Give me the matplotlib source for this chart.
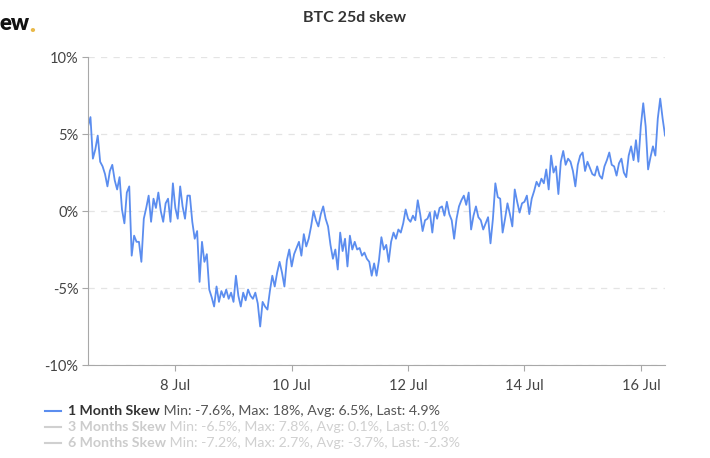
import pandas as pd
import matplotlib
matplotlib.use('Agg')
import matplotlib.pyplot as plt
import matplotlib.dates as mdates
from matplotlib.ticker import FuncFormatter

plt.rcParams['font.family'] = ['Lato', 'DejaVu Sans']

# 1 Month Skew, hourly values (%), from 6 Jul 12:00
skew_1m = [
    5.5, 6.1, 3.4, 4.0, 4.9, 3.2, 2.9, 2.4, 1.6, 2.6, 3.0, 2.0,
    1.4, 2.2, 0.1, -0.8, 1.2, 1.6, -2.9, -1.6, -2.0, -2.0, -3.3, -0.5,
    0.2, 1.0, -0.7, 0.8, 0.2, 1.2, 0.0, -0.7, 0.5, 0.8, -0.7, 1.8,
    0.2, -0.5, 1.6, 0.3, -0.5, 1.0, 1.0, -0.7, -1.8, -1.3, -4.6, -2.0,
    -3.3, -2.8, -5.1, -5.6, -6.2, -4.9, -5.9, -5.2, -5.6, -5.1, -5.7, -5.3,
    -5.9, -4.2, -5.5, -6.2, -5.3, -5.8, -5.1, -5.5, -5.7, -5.3, -6.0, -7.5,
    -5.9, -6.2, -6.4, -5.2, -4.2, -4.9, -4.0, -3.3, -4.0, -4.9, -3.2, -2.5,
    -3.6, -2.8, -2.4, -2.0, -2.9, -1.5, -2.3, -1.8, -1.0, 0.0, -0.6, -1.0,
    -0.2, 0.3, -0.5, -1.0, -2.2, -3.1, -2.5, -3.8, -1.4, -2.6, -1.8, -3.6,
    -1.6, -2.5, -2.0, -2.5, -2.4, -2.9, -2.7, -3.1, -3.3, -4.2, -3.4, -4.2,
    -3.2, -1.7, -2.5, -2.2, -3.3, -2.0, -1.4, -1.8, -1.2, -1.4, -0.8, 0.1,
    -0.5, -0.7, -0.3, -0.6, 0.7, -0.2, -1.3, -0.6, -0.5, -0.1, -1.4, 0.0,
    -0.5, 0.2, 0.3, -0.3, 0.6, -0.2, -0.6, -1.8, -0.5, 0.3, 0.7, 1.0,
    0.4, 1.2, -1.2, -0.3, 0.3, -0.4, -0.6, -1.2, -0.8, -0.4, -2.1, -0.5,
    1.8, 0.9, 0.8, -1.4, -0.5, 0.5, -0.2, -1.0, 1.4, 0.6, -0.1, 0.5,
    0.6, 1.0, -0.2, 0.8, 1.3, 1.9, 1.6, 2.1, 1.8, 2.7, 1.4, 3.6,
    2.5, 2.9, 1.1, 3.2, 3.9, 3.0, 3.4, 3.2, 2.6, 1.6, 3.0, 3.6,
    3.8, 2.6, 3.2, 2.8, 2.4, 2.3, 2.9, 2.3, 2.1, 2.9, 3.3, 3.8,
    3.0, 2.9, 2.3, 3.1, 3.4, 2.5, 2.2, 3.6, 4.2, 3.3, 4.6, 3.2,
    5.5, 7.0, 5.5, 2.7, 3.5, 4.2, 3.6, 6.0, 7.3, 6.0, 4.9,
]
times = pd.date_range('2020-07-06 12:00', periods=len(skew_1m), freq='h')

legend_names = ['1 Month Skew', '3 Months Skew', '6 Months Skew']
legend_stats = ['Min: -7.6%, Max: 18%, Avg: 6.5%, Last: 4.9%',
                'Min: -6.5%, Max: 7.8%, Avg: 0.1%, Last: 0.1%',
                'Min: -7.2%, Max: 2.7%, Avg: -3.7%, Last: -2.3%']

fig = plt.figure(figsize=(7.1, 4.58), dpi=100)
ax = fig.add_axes([0.124, 0.203, 0.8127, 0.6725])

ax.plot(times, skew_1m, color='#5b8def', lw=1.3)

ax.set_ylim(-10, 10)
ax.set_yticks([-10, -5, 0, 5, 10])
ax.yaxis.set_major_formatter(FuncFormatter(lambda v, p: f'{v:.0f}%'))
ax.set_xlim(times[0], times[-1])
ax.xaxis.set_major_locator(mdates.DayLocator(bymonthday=[8, 10, 12, 14, 16]))
ax.xaxis.set_major_formatter(mdates.DateFormatter('%-d %b'))

ax.grid(axis='y', color='#e4e4e4', ls=(0, (5, 5)), lw=0.9)
ax.set_axisbelow(True)
for s in ['top', 'right']:
    ax.spines[s].set_visible(False)
for s in ['left', 'bottom']:
    ax.spines[s].set_color('#a8a8a8')
ax.tick_params(colors='#a8a8a8', labelcolor='#444444', labelsize=10.5, length=4)
ax.tick_params(axis='y', pad=3)
ax.tick_params(axis='x', pad=6)

fig.text(0.5, 0.96, 'BTC 25d skew', ha='center', va='center',
         fontsize=11.5, fontweight='bold', color='#333333')

# logo (cut off at the left edge in the source)
fig.text(0.0, 0.948, 'ew', ha='left', va='center', fontsize=16,
         fontweight='heavy', color='#111111')
fig.text(0.041, 0.945, '.', ha='left', va='center', fontsize=18,
         fontweight='heavy', color='#e9b949')

# legend
colors = ['#5b8def', '#d0d0d0', '#d0d0d0']
name_colors = ['#333333', '#cccccc', '#cccccc']
stat_colors = ['#555555', '#d0d0d0', '#d0d0d0']
ys = [411, 427, 443]
for name, stat, c, nc, sc, y in zip(legend_names, legend_stats, colors,
                                    name_colors, stat_colors, ys):
    fy = 1 - y / 458
    fig.add_artist(plt.Line2D([45 / 710, 61 / 710], [fy, fy], color=c, lw=1.5))
    t = fig.text(68 / 710, fy, name, ha='left', va='center', fontsize=10.2,
                 fontweight='bold', color=nc)
    ax.annotate(' ' + stat, xy=(1, 0.5), xycoords=t, ha='left', va='center',
                fontsize=10.2, color=sc, annotation_clip=False)

fig.savefig('out.png', dpi=100)
